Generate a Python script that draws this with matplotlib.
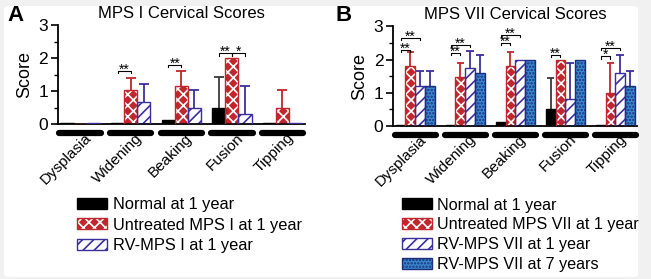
import numpy as np
import matplotlib
matplotlib.use('Agg')
import matplotlib.pyplot as plt
from matplotlib.patches import Patch, FancyBboxPatch
from matplotlib.legend_handler import HandlerTuple
import matplotlib.transforms as mtransforms

plt.rcParams['font.family'] = ['Liberation Sans', 'DejaVu Sans']
plt.rcParams['hatch.linewidth'] = 1.2

categories = ['Dysplasia', 'Widening', 'Beaking', 'Fusion', 'Tipping']

# panel A: MPS I
a_labels = ['Normal at 1 year', 'Untreated MPS I at 1 year', 'RV-MPS I at 1 year']
a_normal = [0.04, 0.04, 0.13, 0.5, 0.04]
a_normal_err = [0, 0, 0, 0.93, 0]
a_untreated = [0.02, 1.05, 1.15, 2.0, 0.5]
a_untreated_err = [0, 0.35, 0.45, 0, 0.55]
a_rv1 = [0.04, 0.67, 0.5, 0.33, 0.04]
a_rv1_err = [0, 0.56, 0.55, 0.82, 0]
# (group, bar i, bar j, height, stars)
a_sig = [(1, 0, 1, 1.62, '**'), (2, 0, 1, 1.8, '**'),
         (3, 0, 1, 2.15, '**'), (3, 1, 2, 2.15, '*')]

# panel B: MPS VII
b_labels = ['Normal at 1 year', 'Untreated MPS VII at 1 year',
            'RV-MPS VII at 1 year', 'RV-MPS VII at 7 years']
b_normal = [0.04, 0.04, 0.13, 0.5, 0.04]
b_normal_err = [0, 0, 0, 0.93, 0]
b_untreated = [1.8, 1.47, 1.8, 2.0, 1.0]
b_untreated_err = [0.43, 0.43, 0.43, 0, 0.9]
b_rv1 = [1.2, 1.75, 2.0, 0.8, 1.6]
b_rv1_err = [0.45, 0.5, 0, 1.1, 0.55]
b_rv7 = [1.2, 1.6, 2.0, 2.0, 1.2]
b_rv7_err = [0.45, 0.55, 0, 0, 0.45]
b_sig = [(0, 0, 1, 2.3, '**'), (0, 0, 2, 2.66, '**'),
         (1, 0, 1, 2.2, '**'), (1, 0, 2, 2.44, '**'),
         (2, 0, 1, 2.5, '**'), (2, 0, 2, 2.74, '**'),
         (3, 0, 1, 2.15, '**'),
         (4, 0, 1, 2.1, '*'), (4, 0, 2, 2.36, '**')]

RED = '#c0262c'
PURPLE = '#3b2f9e'
BLUE = '#3a8bd2'
NAVY = '#1c2f78'

styles = {
    'normal': dict(face='black', hatch=None, hatchcol='black', edge='black', err='#3a3a3a'),
    'untreated': dict(face=RED, hatch='xxx', hatchcol='white', edge=RED, err=RED),
    'rv1': dict(face='white', hatch='///', hatchcol=PURPLE, edge=PURPLE, err=PURPLE),
    'rv7': dict(face=BLUE, hatch='.....', hatchcol=NAVY, edge=NAVY, err=PURPLE),
}


def draw_bars(ax, x, vals, errs, st, width):
    ax.bar(x, vals, width, color=st['face'], hatch=st['hatch'],
           edgecolor=st['hatchcol'], linewidth=0, zorder=2)
    ax.bar(x, vals, width, fill=False, edgecolor=st['edge'], linewidth=1.0, zorder=3)
    for xi, v, e in zip(x, vals, errs):
        if e > 0:
            ax.vlines(xi, v, v + e, color=st['err'], lw=1.3, zorder=1)
            ax.hlines(v + e, xi - width * 0.38, xi + width * 0.38, color=st['err'], lw=1.3, zorder=1)


def legend_handle(st):
    return (Patch(facecolor=st['face'], hatch=st['hatch'], edgecolor=st['hatchcol'], linewidth=0),
            Patch(fill=False, edgecolor=st['edge'], linewidth=1.0))


def panel(ax, series, keys, sig, title):
    n = len(series)
    width = 0.78 / n
    x0 = np.arange(len(categories))
    offsets = (np.arange(n) - (n - 1) / 2) * width
    for (vals, errs), key, off in zip(series, keys, offsets):
        draw_bars(ax, x0 + off, vals, errs, styles[key], width)
    # significance brackets
    for g, i, j, h, stars in sig:
        xa, xb = g + offsets[i], g + offsets[j]
        ax.plot([xa, xa, xb, xb], [h - 0.07, h, h, h - 0.07], color='black', lw=0.8)
        ax.annotate(stars, ((xa + xb) / 2, h), xytext=(0, -2.0), textcoords='offset points',
                    ha='center', va='baseline', fontsize=10)
    ax.set_xlim(-0.44, 4.44)
    ax.set_ylim(0, 3)
    ax.set_yticks([0, 1, 2, 3])
    ax.set_yticks([0.5, 1.5, 2.5], minor=True)
    ax.tick_params(axis='y', which='major', length=5, width=1.2, labelsize=12.5, pad=2)
    ax.tick_params(axis='y', which='minor', length=3, width=1.0)
    ax.set_xticks(x0)
    ax.set_xticklabels(categories, rotation=45, ha='right', rotation_mode='anchor', fontsize=11)
    ax.tick_params(axis='x', length=0, pad=4.5)
    shift = mtransforms.ScaledTranslation(4 / 100, 0, ax.figure.dpi_scale_trans)
    for lbl in ax.get_xticklabels():
        lbl.set_transform(lbl.get_transform() + shift)
    for s in ['top', 'right']:
        ax.spines[s].set_visible(False)
    for s in ['left', 'bottom']:
        ax.spines[s].set_linewidth(1.3)
    ax.set_ylabel('Score', fontsize=13, labelpad=4)
    ax.set_title(title, fontsize=12, pad=5)
    # group underlines
    trans = mtransforms.blended_transform_factory(ax.transData, ax.transAxes)
    for g in x0:
        ax.plot([g - 0.41, g + 0.41], [-0.09, -0.09], color='black', lw=4.5,
                solid_capstyle='round', transform=trans, clip_on=False)


fig = plt.figure(figsize=(6.51, 2.79), dpi=100, facecolor='#f1f1f1')
bg = FancyBboxPatch((4 / 651, 2 / 279), 634 / 651, 271 / 279,
                    boxstyle='round,pad=0,rounding_size=0.01',
                    transform=fig.transFigure, facecolor='white', edgecolor='none', zorder=-10)
fig.patches.append(bg)

axA = fig.add_axes([0.089, 0.554, 0.379, 0.356])
axB = fig.add_axes([0.604, 0.548, 0.375, 0.358])
for a in (axA, axB):
    a.set_facecolor('none')

panel(axA, [(a_normal, a_normal_err), (a_untreated, a_untreated_err), (a_rv1, a_rv1_err)],
      ['normal', 'untreated', 'rv1'], a_sig, 'MPS I Cervical Scores')
panel(axB, [(b_normal, b_normal_err), (b_untreated, b_untreated_err),
            (b_rv1, b_rv1_err), (b_rv7, b_rv7_err)],
      ['normal', 'untreated', 'rv1', 'rv7'], b_sig, 'MPS VII Cervical Scores')

fig.text(0.012, 0.945, 'A', fontsize=16, fontweight='bold', va='center')
fig.text(0.515, 0.945, 'B', fontsize=16, fontweight='bold', va='center')

legA = fig.legend([legend_handle(styles[k]) for k in ['normal', 'untreated', 'rv1']], a_labels,
                  loc='upper left', bbox_to_anchor=(0.118, 0.293), frameon=False,
                  handler_map={tuple: HandlerTuple(ndivide=1)}, fontsize=11.8,
                  handlelength=1.85, handleheight=0.65, handletextpad=0.35,
                  labelspacing=0.33, borderpad=0, borderaxespad=0)
legB = fig.legend([legend_handle(styles[k]) for k in ['normal', 'untreated', 'rv1', 'rv7']], b_labels,
                  loc='upper left', bbox_to_anchor=(0.6175, 0.292), frameon=False,
                  handler_map={tuple: HandlerTuple(ndivide=1)}, fontsize=11.6,
                  handlelength=1.85, handleheight=0.65, handletextpad=0.35,
                  labelspacing=0.3, borderpad=0, borderaxespad=0)

fig.savefig('out.png', dpi=100, facecolor=fig.get_facecolor())
